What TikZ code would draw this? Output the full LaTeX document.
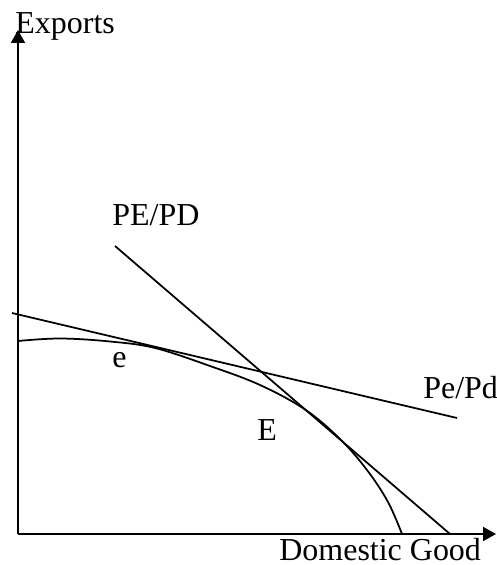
\documentclass[tikz,border=0pt]{standalone}
\usepackage{fontspec}
\setmainfont{Liberation Serif}
\usetikzlibrary{positioning,arrows.meta}
\tikzset{
  axisarrow/.style={-{Triangle[length=2.6mm,width=2.8mm]}, line width=1pt},
  priceline/.style={line width=1pt},
  ppfcurve/.style={line width=1pt},
  txtlabel/.style={anchor=base west, inner sep=0pt}
}

\begin{document}
\begin{tikzpicture}[x=0.02cm, y=-0.02cm, every node/.style={font=\fontsize{18.2}{20}\selectfont}]
      \useasboundingbox (0,0) rectangle (497,565);
      % axes
      \coordinate (O) at (18,534);
      \coordinate (ytip) at (18,30);
      \coordinate (xtip) at (496,534);
      \draw[axisarrow] (O) -- (ytip);
      \draw[axisarrow] (O) -- (xtip);
      \node[txtlabel] (exports) at (15,33) {Exports};
      \node[txtlabel] (domestic) at (279,560) {Domestic Good};
      % price lines
      \coordinate (pda) at (12,313);
      \coordinate (pdb) at (457,418);
      \coordinate (PDa) at (115,246);
      \coordinate (PDb) at (450,534);
      \draw[priceline] (pda) -- (pdb);
      \draw[priceline] (PDa) -- (PDb);
      \node[txtlabel] (pdlab) at (423,398) {Pe/Pd};
      \node[txtlabel] (PDlab) at (112,225) {PE/PD};
      % production possibility curve
      \draw[ppfcurve] plot[smooth, tension=0.6] coordinates {(18,341) (60,338.5) (110,341.5) (155,348) (210,366) (260,385) (305,409.5) (340,439) (367,470) (388,502) (402,534)};
      \node[txtlabel] (elab) at (112,367) {e};
      \node[txtlabel] (Elab) at (257,440) {E};
    \end{tikzpicture}
\end{document}
